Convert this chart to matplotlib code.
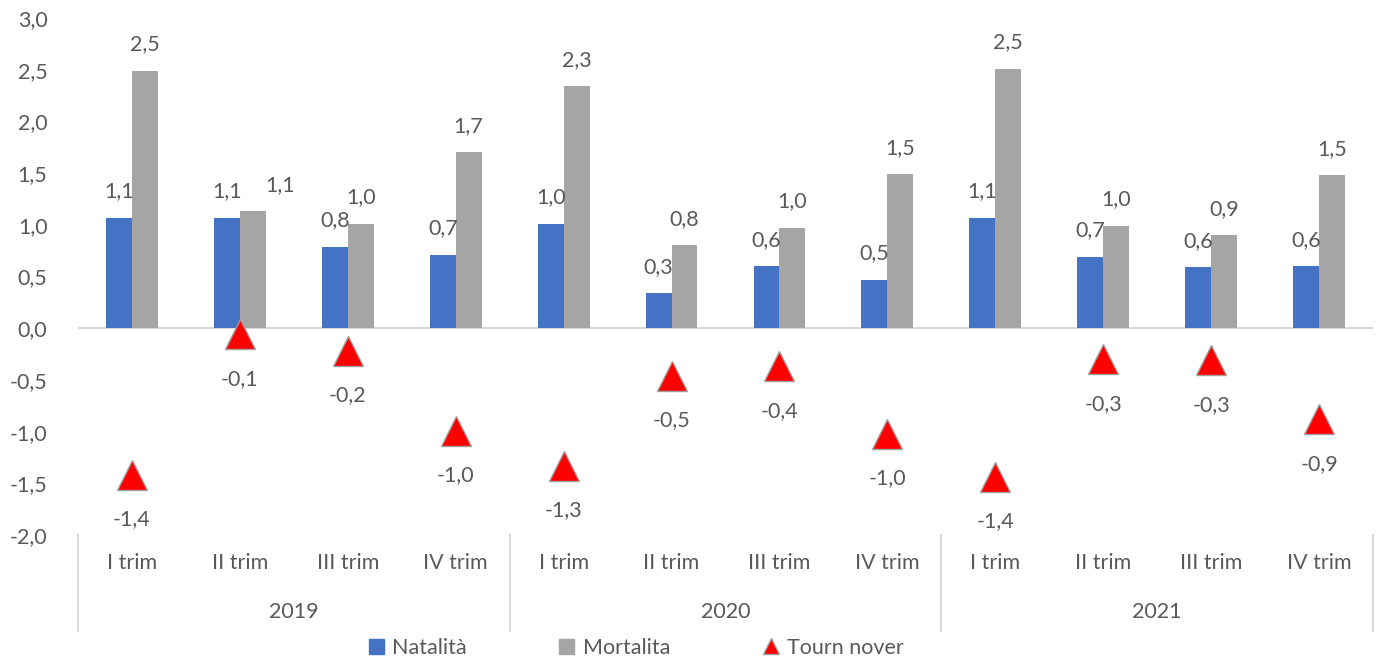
import numpy as np
import matplotlib
matplotlib.use("Agg")
import matplotlib.pyplot as plt
from matplotlib.transforms import blended_transform_factory
from matplotlib.lines import Line2D
from matplotlib.patches import Patch

# quarterly rates
years = ["2019", "2020", "2021"]
quarters = ["I trim", "II trim", "III trim", "IV trim"]
natalita = [1.07, 1.07, 0.79, 0.71, 1.01, 0.34, 0.60, 0.47, 1.07, 0.69, 0.59, 0.60]
mortalita = [2.49, 1.13, 1.01, 1.70, 2.34, 0.80, 0.97, 1.49, 2.51, 0.99, 0.90, 1.48]
turnover = [-1.42, -0.06, -0.22, -0.99, -1.33, -0.46, -0.37, -1.02, -1.44, -0.30, -0.31, -0.88]
y_ticks = [-2.0, -1.5, -1.0, -0.5, 0.0, 0.5, 1.0, 1.5, 2.0, 2.5, 3.0]

BLUE = "#4472C4"
GREY = "#A5A5A5"
RED = "#FF0000"
TXT = "#595959"
FS = 15.5

plt.rcParams["font.family"] = ["Lato", "DejaVu Sans"]
plt.rcParams["font.size"] = FS


def fmt(v):
    return "{:.1f}".format(v).replace(".", ",")


fig = plt.figure(figsize=(13.8, 6.59), dpi=100)
ax = fig.add_axes([78 / 1380, 1 - 535 / 659, (1373 - 78) / 1380, (535 - 18) / 659])

x = np.arange(len(natalita))
w = 0.24
ax.bar(x - w / 2, natalita, w, color=BLUE, zorder=2)
ax.bar(x + w / 2, mortalita, w, color=GREY, zorder=2)
ax.plot(x, turnover, linestyle="none", marker="^", markersize=22,
        markerfacecolor=RED, markeredgecolor="#A0A0A0", markeredgewidth=1, zorder=4)

for xi, v in zip(x - w / 2, natalita):
    ax.annotate(fmt(v), (xi, v), xytext=(0, 19), textcoords="offset points",
                ha="center", va="center", color=TXT, fontsize=FS)
for xi, v, n in zip(x + w / 2, mortalita, natalita):
    # push the label sideways when it would collide with its neighbour
    dx = 20 if abs(v - n) < 0.15 else 0
    ax.annotate(fmt(v), (xi, v), xytext=(dx, 19), textcoords="offset points",
                ha="center", va="center", color=TXT, fontsize=FS)
for xi, v in zip(x, turnover):
    ax.annotate(fmt(v), (xi, v), xytext=(0, -32), textcoords="offset points",
                ha="center", va="center", color=TXT, fontsize=FS)

ax.axhline(0, color="#D9D9D9", linewidth=1.5, zorder=1)
ax.set_xlim(-0.5, len(x) - 0.5)
ax.set_ylim(-2.0, 3.0)
ax.set_yticks(y_ticks)
ax.set_yticklabels([fmt(t) for t in y_ticks], color=TXT, fontsize=FS)
ax.tick_params(axis="y", length=0, pad=22)
ax.set_xticks([])
for s in ax.spines.values():
    s.set_visible(False)

# two-level category axis
trans = blended_transform_factory(ax.transData, ax.transAxes)
h_px = 535 - 18
for i in x:
    ax.text(i, -28 / h_px, quarters[i % 4], transform=trans, ha="center", va="center",
            color=TXT, fontsize=FS)
for g, yr in enumerate(years):
    ax.text(g * 4 + 1.5, -77 / h_px, yr, transform=trans, ha="center", va="center",
            color=TXT, fontsize=FS)
for b in [-0.5, 3.5, 7.5, 11.5]:
    ax.add_line(Line2D([b, b], [0, -96 / h_px], transform=trans, color="#D9D9D9",
                       linewidth=1.5, clip_on=False))

handles = [Patch(color=BLUE, label="Natalità"),
           Patch(color=GREY, label="Mortalita"),
           Line2D([], [], linestyle="none", marker="^", markersize=11,
                  markerfacecolor=RED, markeredgecolor="#A0A0A0", label="Tourn nover")]
fig.legend(handles=handles, loc="center", bbox_to_anchor=(636 / 1380, 1 - 648 / 659),
           ncol=3, frameon=False, columnspacing=4.3, handlelength=0.7, handleheight=0.7,
           handletextpad=0.4, labelcolor=TXT, fontsize=FS)

fig.savefig("out.png", dpi=100)
